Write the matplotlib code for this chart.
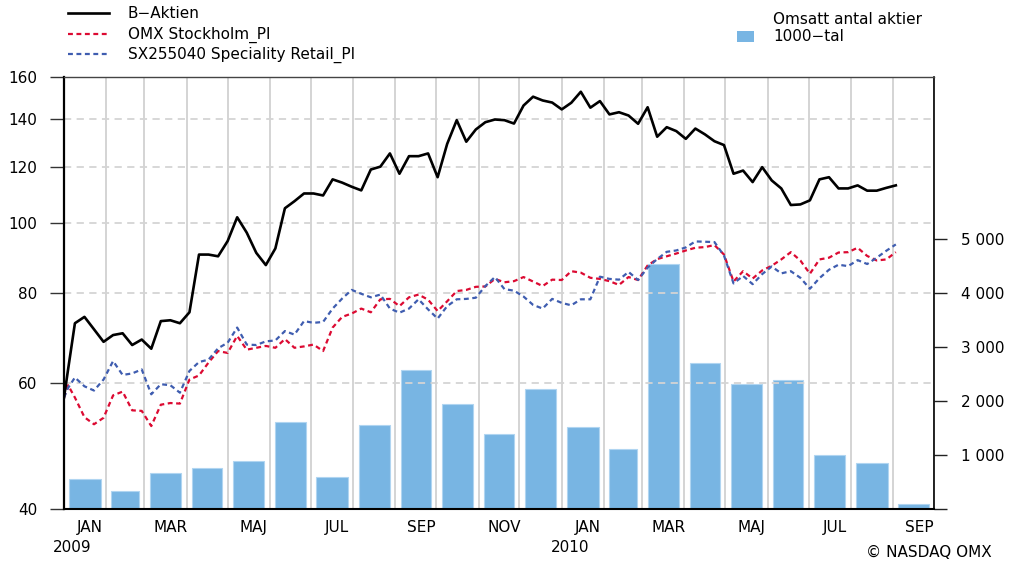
import matplotlib
matplotlib.use('Agg')
import matplotlib.pyplot as plt
import matplotlib.dates as mdates
import matplotlib.transforms as mtransforms
from matplotlib.lines import Line2D
from matplotlib.patches import Rectangle
from matplotlib.ticker import FixedLocator, FixedFormatter, NullLocator
import numpy as np
import pandas as pd

plt.rcParams['font.family'] = ['DejaVu Sans']
plt.rcParams['font.size'] = 11

# ---------------- data ----------------
line_dates = pd.to_datetime(['2009-01-01', '2009-01-04']).append(
    pd.date_range('2009-01-09', '2010-09-03', freq='7D'))

b_aktien = [57.2, 62.6,
            72.6, 74.1, 71.2, 68.4, 69.9, 70.3, 67.7, 68.9, 66.9, 73.1,
            73.3, 72.6, 75.2, 90.5, 90.5, 90.0, 94.5, 102.0, 97.1, 91.0,
            87.5, 92.3, 105.0, 107.4, 110.1, 110.1, 109.4, 115.2, 114.0, 112.5,
            111.2, 118.9, 120.0, 125.2, 117.3, 124.1, 124.1, 125.2, 116.0, 129.1,
            139.3, 130.0, 135.2, 138.4, 139.6, 139.3, 137.8, 146.0, 150.2, 148.4,
            147.4, 144.2, 147.3, 152.6, 145.0, 148.1, 141.9, 142.9, 141.4, 137.7,
            145.2, 132.1, 136.2, 134.5, 131.2, 135.6, 133.1, 130.2, 128.6, 117.3,
            118.5, 114.2, 119.8, 114.8, 111.9, 106.1, 106.3, 107.7, 115.2, 116.0,
            111.9, 111.9, 113.0, 111.1, 111.1, 112.1, 113.0]

omx = [57.2, 59.5,
       57.2, 53.7, 52.5, 53.6, 57.6, 58.3, 54.9, 54.8, 52.2, 55.9,
       56.2, 56.1, 60.6, 61.4, 64.0, 66.4, 66.0, 69.7, 66.7, 67.1,
       67.5, 67.1, 69.0, 67.1, 67.4, 67.8, 66.4, 71.6, 74.1, 74.9,
       76.1, 75.2, 78.4, 78.5, 76.7, 78.9, 79.6, 78.3, 75.5, 77.9,
       80.5, 80.8, 81.6, 81.7, 83.7, 82.8, 83.1, 84.2, 83.0, 81.8,
       83.5, 83.4, 85.8, 85.4, 84.0, 83.7, 83.1, 82.1, 84.2, 83.4,
       87.4, 89.2, 90.0, 90.8, 91.7, 92.5, 92.7, 93.3, 90.5, 83.0,
       85.8, 83.8, 86.0, 87.3, 89.1, 91.2, 88.8, 85.1, 89.1, 89.6,
       91.1, 91.2, 92.5, 90.1, 88.8, 89.1, 91.2]

sx = [57.2, 59.0,
      61.0, 59.3, 58.5, 60.6, 64.3, 61.5, 61.8, 62.6, 57.8, 59.7,
      59.5, 58.1, 62.3, 64.1, 64.6, 67.0, 68.2, 71.6, 67.8, 67.7,
      68.5, 68.7, 70.8, 70.0, 73.1, 72.7, 72.9, 76.1, 78.6, 80.8,
      79.8, 78.9, 79.6, 76.1, 75.1, 76.1, 78.4, 75.9, 73.7, 76.7,
      78.4, 78.5, 78.8, 81.8, 84.2, 81.0, 80.6, 79.1, 77.0, 76.1,
      78.5, 77.5, 76.9, 78.4, 78.4, 84.3, 83.7, 83.5, 85.6, 83.4,
      86.8, 89.2, 91.3, 91.7, 92.6, 94.4, 94.3, 94.2, 90.2, 82.5,
      84.5, 82.3, 85.0, 87.1, 85.2, 85.8, 84.0, 81.1, 83.9, 86.2,
      87.6, 87.2, 88.9, 87.8, 89.6, 91.6, 93.5]

vol_months = pd.date_range('2009-01-01', '2010-09-01', freq='MS')
volume = [548, 327, 659, 762, 891, 1618, 596, 1563, 2570, 1943, 1384,
          2220, 1513, 1107, 4540, 2712, 2319, 2386, 996, 849, 98]

left_ticks = [40, 60, 80, 100, 120, 140, 160]
left_labels = ['40', '60', '80', '100', '120', '140', '160']
grid_levels = [60, 80, 100, 120, 140]
right_ticks = [0, 1000, 2000, 3000, 4000, 5000]
right_labels = ['', '1 000', '2 000', '3 000', '4 000', '5 000']
month_labels = ['JAN', 'MAR', 'MAJ', 'JUL', 'SEP', 'NOV',
                'JAN', 'MAR', 'MAJ', 'JUL', 'SEP']
month_label_dates = pd.date_range('2009-01-01', '2010-09-01', freq='2MS') + pd.Timedelta(days=19)
year_labels = ['2009', '2010']
year_label_dates = pd.to_datetime(['2009-01-07', '2010-01-07'])

series_names = ['B\u2212Aktien', 'OMX Stockholm_PI', 'SX255040 Speciality Retail_PI']
bar_name = ['Omsatt antal aktier', '1000\u2212tal']

# ---------------- styling ----------------
W, H = 1012, 564
c_black = '#000000'
c_red = '#dc0a32'
c_blue = '#3f5db0'
c_bar = '#78b5e3'

fig = plt.figure(figsize=(W / 100, H / 100), dpi=100)
ax = fig.add_axes([64 / W, 1 - 509 / H, 870 / W, 432 / H])
ax2 = ax.twinx()

def d2n(d):
    return mdates.date2num(pd.to_datetime(d).to_pydatetime())

# bars (right axis)
days = np.asarray(vol_months.days_in_month, dtype=float)
starts = d2n(vol_months)
ax.bar(starts + days / 2, volume, width=days * 0.74, color=c_bar,
       edgecolor='#b0d5f1', linewidth=0.8, zorder=2)
ax.set_xlim(d2n(pd.to_datetime(['2009-01-01']))[0], d2n(pd.to_datetime(['2010-10-01']))[0])
ax.set_ylim(0, 8000)
ax.yaxis.tick_right()
ax.yaxis.set_major_locator(FixedLocator(right_ticks))
ax.yaxis.set_major_formatter(FixedFormatter(right_labels))
ax.tick_params(axis='y', direction='out', length=9.5, width=1.0, pad=10,
               color='#222222', labelsize=11)
ax.xaxis.set_major_locator(mdates.MonthLocator())
ax.tick_params(axis='x', length=0, labelbottom=False)
ax.grid(axis='x', color='#d4d4d4', linewidth=1.4)
ax.set_axisbelow(True)
for s in ['top', 'left', 'right']:
    ax.spines[s].set_visible(False)
ax.spines['bottom'].set_color('black')
ax.spines['bottom'].set_linewidth(1.5)
ax.spines['bottom'].set_zorder(5)

# lines (left log axis)
xl = d2n(line_dates)
ax2.set_yscale('log')
for lv in grid_levels:
    ax2.axhline(lv, color='#d4d4d4', linestyle=(0, (4, 3)), linewidth=1.3, zorder=1)
ax2.plot(xl, omx, color=c_red, linewidth=1.6, dashes=(2.2, 1.6), zorder=3)
ax2.plot(xl, sx, color=c_blue, linewidth=1.6, dashes=(2.2, 1.6), zorder=3)
ax2.plot(xl, b_aktien, color=c_black, linewidth=1.9, zorder=4)
ax2.set_ylim(40, 160)
ax2.yaxis.tick_left()
ax2.yaxis.set_major_locator(FixedLocator(left_ticks))
ax2.yaxis.set_major_formatter(FixedFormatter(left_labels))
ax2.yaxis.set_minor_locator(NullLocator())
ax2.tick_params(axis='y', which='major', direction='out', length=10, width=1.0,
                pad=9, color='#333333', labelsize=11)
ax2.spines['bottom'].set_visible(False)
ax2.spines['left'].set_color('black')
ax2.spines['left'].set_linewidth(1.6)
ax2.spines['top'].set_color('#444444')
ax2.spines['top'].set_linewidth(1.0)
ax2.spines['right'].set_color('black')
ax2.spines['right'].set_linewidth(1.2)

# month / year labels
trans = mtransforms.blended_transform_factory(ax.transData, fig.transFigure)
for d, lab in zip(d2n(month_label_dates), month_labels):
    ax.text(d, 1 - 531.7 / H, lab, transform=trans, ha='center', va='baseline',
            fontsize=11, clip_on=False)
for d, lab in zip(d2n(year_label_dates), year_labels):
    ax.text(d, 1 - 551.7 / H, lab, transform=trans, ha='center', va='baseline',
            fontsize=11, clip_on=False)

# legend (left)
leg_y = [13.3, 33.6, 53.6]
leg_base = [18.3, 38.8, 58.8]
styles = [dict(color=c_black, linewidth=1.9),
          dict(color=c_red, linewidth=1.6, dashes=(2.2, 1.6)),
          dict(color=c_blue, linewidth=1.6, dashes=(2.2, 1.6))]
for yy, yb, st, name in zip(leg_y, leg_base, styles, series_names):
    fig.add_artist(Line2D([68 / W, 109 / W], [1 - yy / H] * 2,
                          transform=fig.transFigure, **st))
    fig.text(128 / W, 1 - yb / H, name, va='baseline', ha='left', fontsize=11)

# legend (right)
fig.add_artist(Rectangle((737 / W, 1 - 41.7 / H), 17 / W, 11 / H,
                         transform=fig.transFigure, facecolor=c_bar,
                         edgecolor='none'))
fig.text(773 / W, 1 - 24.3 / H, bar_name[0], va='baseline', ha='left', fontsize=11)
fig.text(773 / W, 1 - 41.0 / H, bar_name[1], va='baseline', ha='left', fontsize=11)

fig.text(992 / W, 1 - 557 / H, '\u00a9 NASDAQ OMX', va='baseline', ha='right', fontsize=11)

fig.savefig('out.png', dpi=100)
